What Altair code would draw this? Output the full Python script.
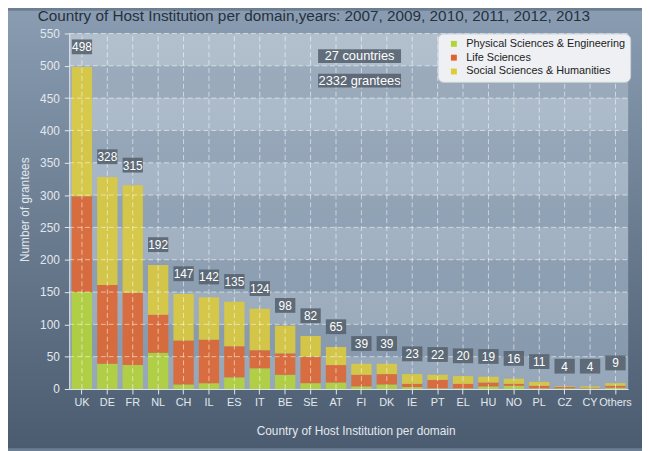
import altair as alt
import pandas as pd

countries = ["UK", "DE", "FR", "NL", "CH", "IL", "ES", "IT", "BE", "SE", "AT",
             "FI", "DK", "IE", "PT", "EL", "HU", "NO", "PL", "CZ", "CY", "Others"]
domains = ["Physical Sciences & Engineering", "Life Sciences", "Social Sciences & Humanities"]
pse = [150, 39, 37, 56, 7, 9, 18, 32, 22, 9, 10, 4, 7, 3, 1, 1, 4, 5, 1, 1, 1, 2]
ls = [148, 122, 112, 59, 68, 67, 48, 28, 33, 41, 27, 18, 16, 5, 13, 7, 6, 3, 4, 2, 1, 3]
ssh = [200, 167, 166, 77, 72, 66, 69, 64, 43, 32, 28, 17, 16, 15, 8, 12, 9, 8, 6, 1, 2, 4]
y_ticks = list(range(0, 551, 50))
notes = ["27 countries", "2332 grantees"]
note_levels = [515, 477]

W, H = 566, 360
FONT = "Liberation Sans"
LIGHT = "#e2e8ee"

rows = []
for i, c in enumerate(countries):
    for k, (d, vals) in enumerate(zip(domains, [pse, ls, ssh])):
        rows.append({"country": c, "domain": d, "value": vals[i], "order": k})
df = pd.DataFrame(rows)
tot = pd.DataFrame({"country": countries,
                    "total": [a + b + c for a, b, c in zip(pse, ls, ssh)]})
bands = pd.DataFrame({"lo": [t for t in y_ticks[1:-1:2]]})
bands["hi"] = bands["lo"] + 50
grid_h = pd.DataFrame({"v": y_ticks[1:]})
grid_v = pd.DataFrame({"country": countries})
ann = pd.DataFrame({"text": notes, "lvl": note_levels})

xscale = alt.Scale(domain=countries, paddingInner=0.2, paddingOuter=0.1)
yscale = alt.Scale(domain=[0, 550], nice=False)

ax_x = alt.Axis(labelAngle=0, labelColor=LIGHT, labelFontSize=11, labelFont=FONT,
                tickColor=LIGHT, tickSize=5, domainColor=LIGHT, labelPadding=3,
                grid=False, labelOverlap=False, zindex=2,
                title="Country of Host Institution per domain",
                titleColor=LIGHT, titleFontSize=12, titleFontWeight="normal",
                titleFont=FONT, titleX=290, titleY=42, titleBaseline="middle")
ax_y = alt.Axis(values=y_ticks, tickCount=12, labelColor=LIGHT, labelFontSize=12, labelFont=FONT,
                tickColor=LIGHT, tickSize=5, labelPadding=5, domainColor=LIGHT,
                labelOverlap=False, labelFlush=False, labelSeparation=0,
                grid=False, zindex=2, title="Number of grantees", titleColor=LIGHT,
                titleFontSize=12, titleFontWeight="normal", titleFont=FONT,
                titleX=-45, titleY=178, titleAngle=-90,
                titleAlign="center", titleBaseline="middle")


def X(field, **kw):
    return alt.X(field, sort=countries, scale=xscale, axis=ax_x, **kw)


def Y(field, **kw):
    return alt.Y(field, scale=yscale, axis=ax_y, **kw)


one = pd.DataFrame({"k": [0]})
page_bg = alt.Chart(one).mark_rect(
    color=alt.Gradient(gradient="linear",
                       stops=[alt.GradientStop(color="#8a9cb1", offset=0),
                              alt.GradientStop(color="#4b5c70", offset=1)],
                       x1=0, x2=0, y1=0, y2=1)
).encode(x=alt.value(-62), x2=alt.value(W + 14), y=alt.value(-23), y2=alt.value(H + 60))

plot_bg = alt.Chart(one).mark_rect(
    color=alt.Gradient(gradient="linear",
                       stops=[alt.GradientStop(color="#b2c0ce", offset=0),
                              alt.GradientStop(color="#96a7b9", offset=1)],
                       x1=0, x2=0, y1=0, y2=1)
).encode(x=alt.value(0), x2=alt.value(W), y=alt.value(0), y2=alt.value(H))

band_layer = alt.Chart(bands).mark_rect(color="#2a4563", opacity=0.15).encode(
    y=Y("lo:Q"), y2="hi:Q", x=alt.value(0), x2=alt.value(W))

bars = alt.Chart(df).mark_bar(opacity=0.88).encode(
    x=X("country:N"),
    y=Y("value:Q", stack="zero"),
    color=alt.Color("domain:N", sort=domains,
                    scale=alt.Scale(domain=domains, range=["#b4d435", "#e0642f", "#dccb3a"]),
                    legend=alt.Legend(title=None, orient="none", legendX=373, legendY=0,
                                      fillColor="#eef0f3", strokeColor="#c9d0d8",
                                      cornerRadius=6, padding=5, symbolOffset=6,
                                      symbolType="square", symbolSize=36, symbolStrokeWidth=0,
                                      symbolOpacity=1, labelFontSize=11, labelFont=FONT,
                                      labelLimit=300, zindex=3,
                                      labelColor="#222222", rowPadding=2, labelOffset=7)),
    order=alt.Order("order:Q", sort="ascending"),
)

vrules = alt.Chart(grid_v).mark_rule(color="white", opacity=0.55, strokeDash=[5, 3]).encode(
    x=X("country:N", bandPosition=0.5), y=alt.datum(0), y2=alt.datum(550))
hrules = alt.Chart(grid_h).mark_rule(color="white", opacity=0.55, strokeDash=[5, 3]).encode(
    y=Y("v:Q"), x=alt.value(0), x2=alt.value(W))

lab_box = alt.Chart(tot).mark_bar(color="#545f6b", opacity=0.85, yOffset=-13, y2Offset=-28).encode(
    x=X("country:N"), y=Y("total:Q"), y2="total:Q")
lab_txt = alt.Chart(tot).mark_text(color="white", fontSize=12, font=FONT, dy=-20,
                                   baseline="middle").encode(
    x=X("country:N", bandPosition=0.5), y=Y("total:Q"), text="total:Q")

ann_box = alt.Chart(ann).mark_rect(color="#545f6b", opacity=0.85, yOffset=7, y2Offset=-7).encode(
    x=alt.value(252), x2=alt.value(336), y=Y("lvl:Q"), y2="lvl:Q")
ann_txt = alt.Chart(ann).mark_text(color="white", fontSize=13, font=FONT,
                                   baseline="middle", align="center").encode(
    x=alt.value(294), y=Y("lvl:Q"), text="text:N")

chart = alt.layer(page_bg, plot_bg, band_layer, bars, vrules, hrules,
                  lab_box, lab_txt, ann_box, ann_txt).properties(
    width=W, height=H,
    padding={"left": 62, "top": 23, "right": 14, "bottom": 60},
    autosize=alt.AutoSizeParams(type="none"),
    title=alt.TitleParams(
        "Country of Host Institution per domain,years: 2007, 2009, 2010, 2011, 2012, 2013",
        anchor="start", frame="group", dx=-32, dy=21, fontSize=15.5, font=FONT,
        fontWeight="normal", color="#26313d", offset=7, zindex=3),
).configure(background="#6b7e94").configure_view(stroke=None).configure_axis(
    labelOverlap=False)

chart.save("out.html", embed_options={"renderer": "svg", "actions": False})
